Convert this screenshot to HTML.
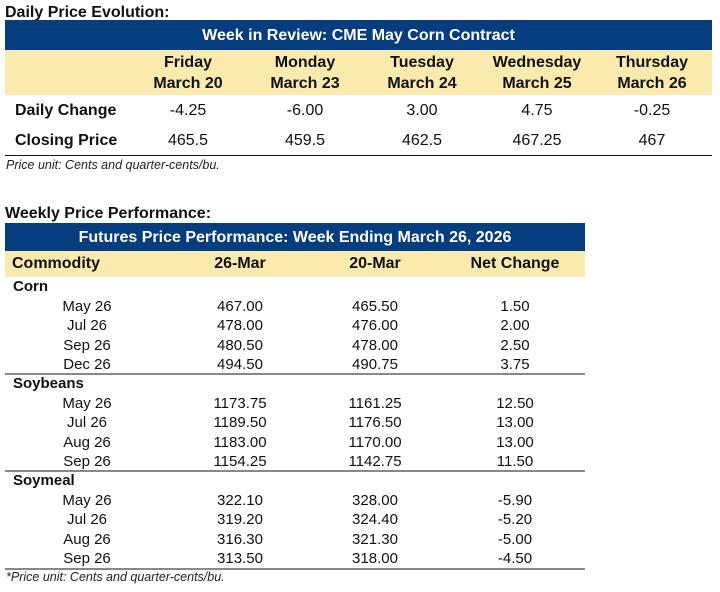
<!DOCTYPE html>
<html><head><meta charset="utf-8"><style>
body{margin:0;width:720px;height:592px;background:#fff;position:relative;overflow:hidden;font-family:"Liberation Sans",Arial,sans-serif;color:#111}
div{position:absolute;white-space:nowrap}
.c{text-align:center}
.b{font-weight:bold}
.blue{background:#063d7e;color:#fff;font-weight:bold;text-align:center}
.yel{background:#fbeaae}
.t1{font-size:16px}
.t2{font-size:15px}
.it{font-style:italic;font-size:12.5px;color:#222}
</style></head><body>
<div class="b t1" style="left:5px;top:4px">Daily Price Evolution:</div>
<div class="blue t1" style="left:5px;top:20px;width:707px;height:30px;line-height:32px">Week in Review: CME May Corn Contract</div>
<div class="yel" style="left:5px;top:50px;width:707px;height:45px"></div>
<div class="b t1 c" style="left:128px;top:52px;width:120px;line-height:21px">Friday<br>March 20</div>
<div class="b t1 c" style="left:245px;top:52px;width:120px;line-height:21px">Monday<br>March 23</div>
<div class="b t1 c" style="left:362px;top:52px;width:120px;line-height:21px">Tuesday<br>March 24</div>
<div class="b t1 c" style="left:477px;top:52px;width:120px;line-height:21px">Wednesday<br>March 25</div>
<div class="b t1 c" style="left:592px;top:52px;width:120px;line-height:21px">Thursday<br>March 26</div>
<div class="b t1" style="left:15px;top:102px">Daily Change</div>
<div class="t1 c" style="left:128px;top:102px;width:120px">-4.25</div>
<div class="t1 c" style="left:245px;top:102px;width:120px">-6.00</div>
<div class="t1 c" style="left:362px;top:102px;width:120px">3.00</div>
<div class="t1 c" style="left:477px;top:102px;width:120px">4.75</div>
<div class="t1 c" style="left:592px;top:102px;width:120px">-0.25</div>
<div class="b t1" style="left:15px;top:132px">Closing Price</div>
<div class="t1 c" style="left:128px;top:132px;width:120px">465.5</div>
<div class="t1 c" style="left:245px;top:132px;width:120px">459.5</div>
<div class="t1 c" style="left:362px;top:132px;width:120px">462.5</div>
<div class="t1 c" style="left:477px;top:132px;width:120px">467.25</div>
<div class="t1 c" style="left:592px;top:132px;width:120px">467</div>
<div style="left:5px;top:155px;width:707px;height:1px;background:#111"></div>
<div class="it" style="left:6px;top:158px">Price unit: Cents and quarter-cents/bu.</div>

<div class="b t1" style="left:5px;top:205px">Weekly Price Performance:</div>
<div class="blue t1" style="left:5px;top:223px;width:580px;height:28px;line-height:29px">Futures Price Performance: Week Ending March 26, 2026</div>
<div class="yel" style="left:5px;top:251px;width:580px;height:26px"></div>
<div class="b t1" style="left:12px;top:255px">Commodity</div>
<div class="b t1 c" style="left:180px;top:255px;width:120px">26-Mar</div>
<div class="b t1 c" style="left:315px;top:255px;width:120px">20-Mar</div>
<div class="b t1 c" style="left:455px;top:255px;width:120px">Net Change</div>

<div class="b t2" style="left:13px;top:278px">Corn</div>
<div class="t2 c" style="left:37px;top:297px;width:100px;line-height:19.3px">May 26<br>Jul 26<br>Sep 26<br>Dec 26</div>
<div class="t2 c" style="left:180px;top:297px;width:120px;line-height:19.3px">467.00<br>478.00<br>480.50<br>494.50</div>
<div class="t2 c" style="left:315px;top:297px;width:120px;line-height:19.3px">465.50<br>476.00<br>478.00<br>490.75</div>
<div class="t2 c" style="left:455px;top:297px;width:120px;line-height:19.3px">1.50<br>2.00<br>2.50<br>3.75</div>
<div style="left:5px;top:373px;width:580px;height:2px;background:#888"></div>

<div class="b t2" style="left:13px;top:375px">Soybeans</div>
<div class="t2 c" style="left:37px;top:394px;width:100px;line-height:19.3px">May 26<br>Jul 26<br>Aug 26<br>Sep 26</div>
<div class="t2 c" style="left:180px;top:394px;width:120px;line-height:19.3px">1173.75<br>1189.50<br>1183.00<br>1154.25</div>
<div class="t2 c" style="left:315px;top:394px;width:120px;line-height:19.3px">1161.25<br>1176.50<br>1170.00<br>1142.75</div>
<div class="t2 c" style="left:455px;top:394px;width:120px;line-height:19.3px">12.50<br>13.00<br>13.00<br>11.50</div>
<div style="left:5px;top:470px;width:580px;height:2px;background:#888"></div>

<div class="b t2" style="left:13px;top:472px">Soymeal</div>
<div class="t2 c" style="left:37px;top:491px;width:100px;line-height:19.3px">May 26<br>Jul 26<br>Aug 26<br>Sep 26</div>
<div class="t2 c" style="left:180px;top:491px;width:120px;line-height:19.3px">322.10<br>319.20<br>316.30<br>313.50</div>
<div class="t2 c" style="left:315px;top:491px;width:120px;line-height:19.3px">328.00<br>324.40<br>321.30<br>318.00</div>
<div class="t2 c" style="left:455px;top:491px;width:120px;line-height:19.3px">-5.90<br>-5.20<br>-5.00<br>-4.50</div>
<div style="left:5px;top:568px;width:580px;height:2px;background:#888"></div>
<div class="it" style="left:6px;top:570px">*Price unit: Cents and quarter-cents/bu.</div>
</body></html>
